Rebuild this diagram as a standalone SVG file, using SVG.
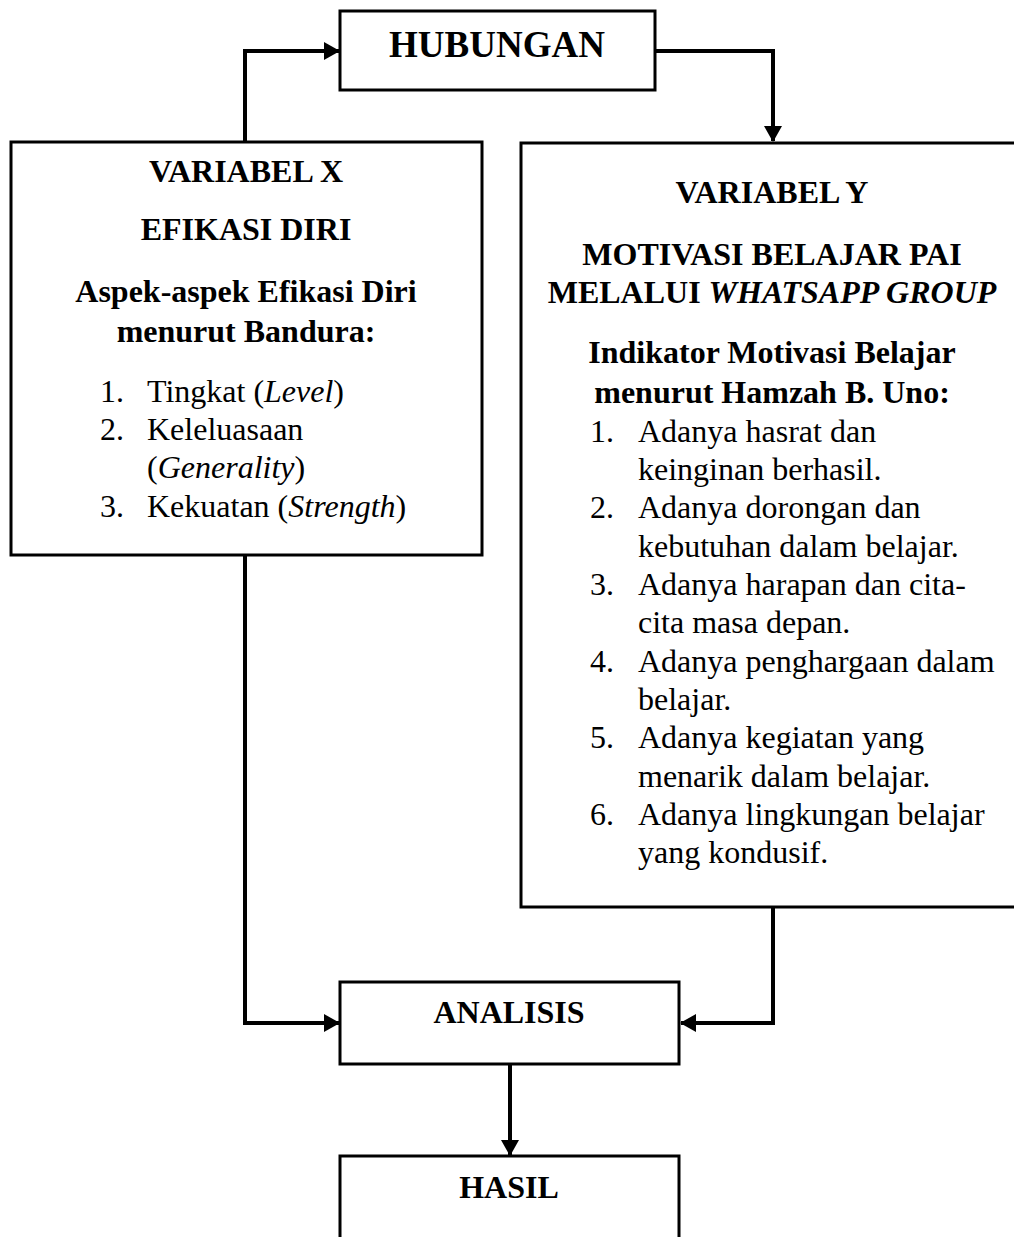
<svg xmlns="http://www.w3.org/2000/svg" width="1014" height="1237" viewBox="0 0 1014 1237">
<style>
.box{fill:#fff;stroke:#000;stroke-width:3}
.con{fill:none;stroke:#000;stroke-width:4}
text{font-family:"Liberation Serif","Times New Roman",serif;font-size:32px;fill:#000}
.b{font-weight:bold}
.c{text-anchor:middle}
.big{font-size:37px}
</style>
<defs>
<marker id="ah" markerUnits="userSpaceOnUse" markerWidth="16" markerHeight="18" refX="15" refY="9" orient="auto">
<path d="M0,0 L16,9 L0,18 Z" fill="#000"/>
</marker>
</defs>
<g id="connectors">
<path class="con" d="M245,142 V51 H339" marker-end="url(#ah)"/>
<path class="con" d="M655,51 H773 V141" marker-end="url(#ah)"/>
<path class="con" d="M245,555 V1023 H339" marker-end="url(#ah)"/>
<path class="con" d="M773,907 V1023 H681" marker-end="url(#ah)"/>
<path class="con" d="M510,1064 V1155" marker-end="url(#ah)"/>
</g>
<g id="hubungan">
<rect class="box" x="340" y="11" width="315" height="79"/>
<text class="b c big" x="497" y="57">HUBUNGAN</text>
</g>
<g id="variabel-x">
<rect class="box" x="11" y="142" width="471" height="413"/>
<text class="b c" x="246" y="182">VARIABEL X</text>
<text class="b c" x="246" y="240">EFIKASI DIRI</text>
<text class="b c" x="246" y="302">Aspek-aspek Efikasi Diri</text>
<text class="b c" x="246" y="342">menurut Bandura:</text>
<text x="100" y="402">1.</text><text x="147" y="402">Tingkat (<tspan font-style="italic">Level</tspan>)</text>
<text x="100" y="440">2.</text><text x="147" y="440">Keleluasaan</text>
<text x="147" y="478">(<tspan font-style="italic">Generality</tspan>)</text>
<text x="100" y="517">3.</text><text x="147" y="517">Kekuatan (<tspan font-style="italic">Strength</tspan>)</text>
</g>
<g id="variabel-y">
<rect class="box" x="521" y="143" width="500" height="764"/>
<text class="b c" x="772" y="203">VARIABEL Y</text>
<text class="b c" x="772" y="265">MOTIVASI BELAJAR PAI</text>
<text class="b c" x="772" y="303">MELALUI <tspan font-style="italic">WHATSAPP GROUP</tspan></text>
<text class="b c" x="772" y="363">Indikator Motivasi Belajar</text>
<text class="b c" x="772" y="403">menurut Hamzah B. Uno:</text>
<text x="590" y="442">1.</text><text x="638" y="442">Adanya hasrat dan</text>
<text x="638" y="480">keinginan berhasil.</text>
<text x="590" y="518">2.</text><text x="638" y="518">Adanya dorongan dan</text>
<text x="638" y="557">kebutuhan dalam belajar.</text>
<text x="590" y="595">3.</text><text x="638" y="595">Adanya harapan dan cita-</text>
<text x="638" y="633">cita masa depan.</text>
<text x="590" y="672">4.</text><text x="638" y="672">Adanya penghargaan dalam</text>
<text x="638" y="710">belajar.</text>
<text x="590" y="748">5.</text><text x="638" y="748">Adanya kegiatan yang</text>
<text x="638" y="787">menarik dalam belajar.</text>
<text x="590" y="825">6.</text><text x="638" y="825">Adanya lingkungan belajar</text>
<text x="638" y="863">yang kondusif.</text>
</g>
<g id="analisis">
<rect class="box" x="340" y="982" width="339" height="82"/>
<text class="b c" x="509" y="1023">ANALISIS</text>
</g>
<g id="hasil">
<rect class="box" x="340" y="1156" width="339" height="100"/>
<text class="b c" x="509" y="1198">HASIL</text>
</g>
</svg>
